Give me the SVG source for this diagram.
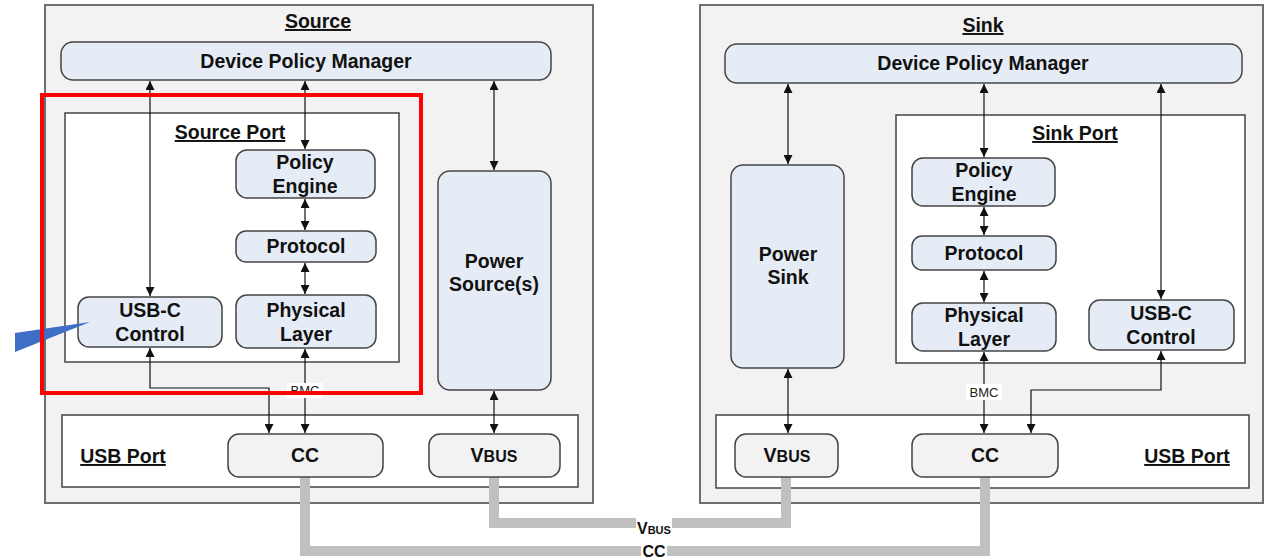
<svg xmlns="http://www.w3.org/2000/svg" width="1269" height="560" viewBox="0 0 1269 560">
<defs>
<style>
.outer{fill:#f2f2f2;stroke:#6e6e6e;stroke-width:2}
.port{fill:#ffffff;stroke:#444;stroke-width:1.5}
.node{fill:#e6ecf6;stroke:#444;stroke-width:1.5}
.gnode{fill:#f2f2f2;stroke:#444;stroke-width:1.5}
.t{font-family:"Liberation Sans",Arial,sans-serif;font-weight:bold;font-size:19.5px;fill:#111;text-anchor:middle}
.title{text-decoration:underline}
.ln{stroke:#111;stroke-width:1.2;fill:none}
.bus{stroke:#c0c0c0;stroke-width:10;fill:none}
.bmc{font-family:"Liberation Sans",Arial,sans-serif;font-size:13px;fill:#222;text-anchor:middle}
</style>
<marker id="ah" viewBox="0 0 10 10" refX="10" refY="5" markerWidth="9" markerHeight="9" markerUnits="userSpaceOnUse" orient="auto-start-reverse">
<path d="M0,0 L10,5 L0,10 z" fill="#111"/>
</marker>
</defs>
<rect width="1269" height="560" fill="#ffffff"/>

<g id="source">
<rect class="outer" x="45" y="5" width="548" height="498"/>
<text class="t title" x="318" y="28">Source</text>
</g>
<g id="sink">
<rect class="outer" x="700" y="5" width="563" height="498"/>
<text class="t title" x="983" y="32">Sink</text>
</g>

<g id="source-port">
<rect class="port" x="65" y="113" width="334" height="249"/>
<text class="t title" x="230" y="139">Source Port</text>
</g>
<g id="source-usb-port">
<rect class="port" x="62" y="415" width="516" height="72"/>
<text class="t title" x="123" y="463">USB Port</text>
</g>
<g id="sink-port">
<rect class="port" x="896" y="115" width="349" height="248"/>
<text class="t title" x="1075" y="140">Sink Port</text>
</g>
<g id="sink-usb-port">
<rect class="port" x="716" y="415" width="533" height="73"/>
<text class="t title" x="1187" y="463">USB Port</text>
</g>

<g id="bus">
<polyline class="bus" points="305,477 305,551 985,551 985,477"/>
<polyline class="bus" points="494,477 494,523 786,523 786,477"/>
<rect x="636" y="515" width="36" height="20" fill="#fff"/>
<rect x="641" y="541" width="26" height="18" fill="#fff"/>
<text x="637" y="534" font-family="'Liberation Sans',Arial,sans-serif" font-weight="bold" font-size="16" fill="#111">V<tspan font-size="11">BUS</tspan></text>
<text x="654" y="557" font-family="'Liberation Sans',Arial,sans-serif" font-weight="bold" font-size="16" fill="#111" text-anchor="middle">CC</text>
</g>

<g id="src-dpm">
<rect class="node" x="61" y="42" width="490" height="38" rx="12"/>
<text class="t" x="306" y="68">Device Policy Manager</text>
</g>
<g id="src-policy-engine">
<rect class="node" x="236" y="150" width="139" height="48" rx="11"/>
<text class="t" x="305" y="169">Policy</text>
<text class="t" x="305" y="193">Engine</text>
</g>
<g id="src-protocol">
<rect class="node" x="236" y="231" width="140" height="31" rx="10"/>
<text class="t" x="306" y="253">Protocol</text>
</g>
<g id="src-physical">
<rect class="node" x="236" y="295" width="140" height="53" rx="11"/>
<text class="t" x="306" y="317">Physical</text>
<text class="t" x="306" y="341">Layer</text>
</g>
<g id="src-usbc">
<rect class="node" x="78" y="297" width="144" height="50" rx="11"/>
<text class="t" x="150" y="317">USB-C</text>
<text class="t" x="150" y="341">Control</text>
</g>
<g id="src-power">
<rect class="node" x="438" y="171" width="113" height="219" rx="12"/>
<text class="t" x="494" y="268">Power</text>
<text class="t" x="494" y="291">Source(s)</text>
</g>
<g id="src-cc">
<rect class="gnode" x="228" y="434" width="155" height="43" rx="11"/>
<text class="t" x="305" y="462">CC</text>
</g>
<g id="src-vbus">
<rect class="gnode" x="429" y="434" width="131" height="43" rx="11"/>
<text class="t" x="494" y="462">V<tspan font-size="16">BUS</tspan></text>
</g>

<g id="snk-dpm">
<rect class="node" x="725" y="44" width="517" height="39" rx="12"/>
<text class="t" x="983" y="70">Device Policy Manager</text>
</g>
<g id="snk-power">
<rect class="node" x="731" y="165" width="113" height="203" rx="12"/>
<text class="t" x="788" y="261">Power</text>
<text class="t" x="788" y="284">Sink</text>
</g>
<g id="snk-policy-engine">
<rect class="node" x="912" y="158" width="143" height="48" rx="11"/>
<text class="t" x="984" y="177">Policy</text>
<text class="t" x="984" y="201">Engine</text>
</g>
<g id="snk-protocol">
<rect class="node" x="912" y="236" width="144" height="34" rx="10"/>
<text class="t" x="984" y="260">Protocol</text>
</g>
<g id="snk-physical">
<rect class="node" x="912" y="303" width="144" height="48" rx="11"/>
<text class="t" x="984" y="322">Physical</text>
<text class="t" x="984" y="346">Layer</text>
</g>
<g id="snk-usbc">
<rect class="node" x="1089" y="300" width="145" height="50" rx="11"/>
<text class="t" x="1161" y="320">USB-C</text>
<text class="t" x="1161" y="344">Control</text>
</g>
<g id="snk-vbus">
<rect class="gnode" x="735" y="434" width="103" height="43" rx="11"/>
<text class="t" x="787" y="462">V<tspan font-size="16">BUS</tspan></text>
</g>
<g id="snk-cc">
<rect class="gnode" x="912" y="434" width="146" height="43" rx="11"/>
<text class="t" x="985" y="462">CC</text>
</g>

<g id="connectors">
<line class="ln" x1="150" y1="81" x2="150" y2="296" marker-start="url(#ah)" marker-end="url(#ah)"/>
<line class="ln" x1="305" y1="81" x2="305" y2="149" marker-start="url(#ah)" marker-end="url(#ah)"/>
<line class="ln" x1="494" y1="81" x2="494" y2="170" marker-start="url(#ah)" marker-end="url(#ah)"/>
<line class="ln" x1="305" y1="199" x2="305" y2="230" marker-start="url(#ah)" marker-end="url(#ah)"/>
<line class="ln" x1="305" y1="263" x2="305" y2="294" marker-start="url(#ah)" marker-end="url(#ah)"/>
<line class="ln" x1="305" y1="349" x2="305" y2="433" marker-start="url(#ah)" marker-end="url(#ah)"/>
<polyline class="ln" points="150,348 150,388 269,388 269,433" marker-start="url(#ah)" marker-end="url(#ah)"/>
<line class="ln" x1="494" y1="391" x2="494" y2="433" marker-start="url(#ah)" marker-end="url(#ah)"/>
<rect x="287" y="383" width="36" height="15" fill="#fff"/>
<text class="bmc" x="305" y="395">BMC</text>

<line class="ln" x1="788" y1="84" x2="788" y2="164" marker-start="url(#ah)" marker-end="url(#ah)"/>
<line class="ln" x1="984" y1="84" x2="984" y2="157" marker-start="url(#ah)" marker-end="url(#ah)"/>
<line class="ln" x1="1161" y1="84" x2="1161" y2="299" marker-start="url(#ah)" marker-end="url(#ah)"/>
<line class="ln" x1="984" y1="207" x2="984" y2="235" marker-start="url(#ah)" marker-end="url(#ah)"/>
<line class="ln" x1="984" y1="271" x2="984" y2="302" marker-start="url(#ah)" marker-end="url(#ah)"/>
<line class="ln" x1="984" y1="352" x2="984" y2="433" marker-start="url(#ah)" marker-end="url(#ah)"/>
<polyline class="ln" points="1161,351 1161,390 1031,390 1031,433" marker-start="url(#ah)" marker-end="url(#ah)"/>
<line class="ln" x1="788" y1="369" x2="788" y2="433" marker-start="url(#ah)" marker-end="url(#ah)"/>
<rect x="966" y="384" width="36" height="16" fill="#fff"/>
<text class="bmc" x="984" y="397">BMC</text>
</g>

<polygon points="15,333 90,322 15,352" fill="#3f6ec6"/>
<rect x="42" y="95" width="379" height="298" fill="none" stroke="#ff0000" stroke-width="4"/>
</svg>
